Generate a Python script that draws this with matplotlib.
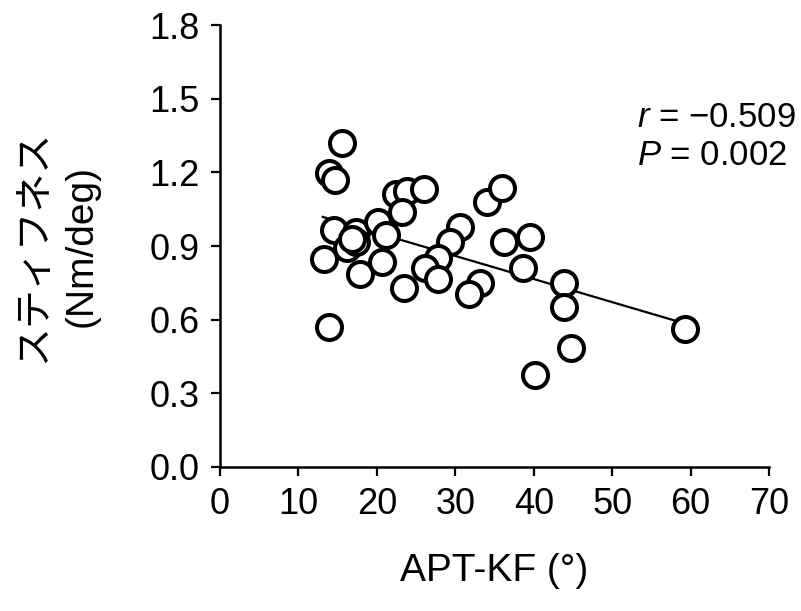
import matplotlib.pyplot as plt
import numpy as np

plt.rcParams['font.family'] = ['Liberation Sans', 'Noto Sans CJK JP']
plt.rcParams['mathtext.fontset'] = 'custom'
plt.rcParams['mathtext.rm'] = 'Liberation Sans'
plt.rcParams['mathtext.it'] = 'Liberation Sans:italic'

# APT-KF (deg) vs stiffness (Nm/deg)
apt_kf = [15.5, 13.9, 14.6, 22.5, 23.8, 26.0, 23.2, 14.5, 17.3, 20.1,
          21.2, 16.2, 17.4, 16.8, 13.3, 17.9, 20.7, 23.5, 13.9, 30.6,
          29.3, 27.8, 26.1, 27.8, 33.2, 31.8, 34.0, 35.9, 36.2, 39.5,
          38.6, 40.2, 43.9, 43.9, 44.8, 59.3]
stiffness = [1.318, 1.196, 1.169, 1.112, 1.125, 1.132, 1.040, 0.965, 0.958, 0.999,
             0.944, 0.890, 0.917, 0.930, 0.846, 0.786, 0.836, 0.727, 0.571, 0.978,
             0.917, 0.850, 0.809, 0.764, 0.750, 0.706, 1.080, 1.135, 0.917, 0.935,
             0.809, 0.375, 0.750, 0.650, 0.483, 0.562]

x = np.array(apt_kf)
y = np.array(stiffness)
slope, intercept = np.polyfit(x, y, 1)
xl = np.array([13.1, x.max() + 0.4])

fig, ax = plt.subplots(figsize=(8.01, 6.11), dpi=100)
fig.subplots_adjust(left=0.2747, right=0.960, bottom=0.2357, top=0.959)

ax.plot(xl, slope * xl + intercept, color='black', lw=1.6, zorder=1)
ax.plot(x, y, 'o', ms=18, mfc='white', mec='black', mew=2.9, zorder=2)

ax.set_xlim(0, 70)
ax.set_ylim(0, 1.8)
ax.set_xticks(np.arange(0, 71, 10))
ax.set_yticks(np.arange(0, 1.81, 0.3))
ax.set_yticklabels(['%.1f' % v for v in np.arange(0, 1.81, 0.3)])

for s in ['top', 'right']:
    ax.spines[s].set_visible(False)
for s in ['left', 'bottom']:
    ax.spines[s].set_linewidth(1.8)
ax.tick_params(direction='out', length=6.5, width=1.6, labelsize=26, pad=8)

ax.set_xlabel('APT-KF (°)', fontsize=28, labelpad=22)
ax.set_ylabel('スティフネス\n(Nm/deg)', fontsize=28, labelpad=36, linespacing=1.4)

ax.text(0.76, 0.748, '$r$ = \u22120.509\n$P$ = 0.002', transform=ax.transAxes,
        fontsize=25, ha='left', va='center', linespacing=1.2)

fig.savefig('out.png', dpi=100)
